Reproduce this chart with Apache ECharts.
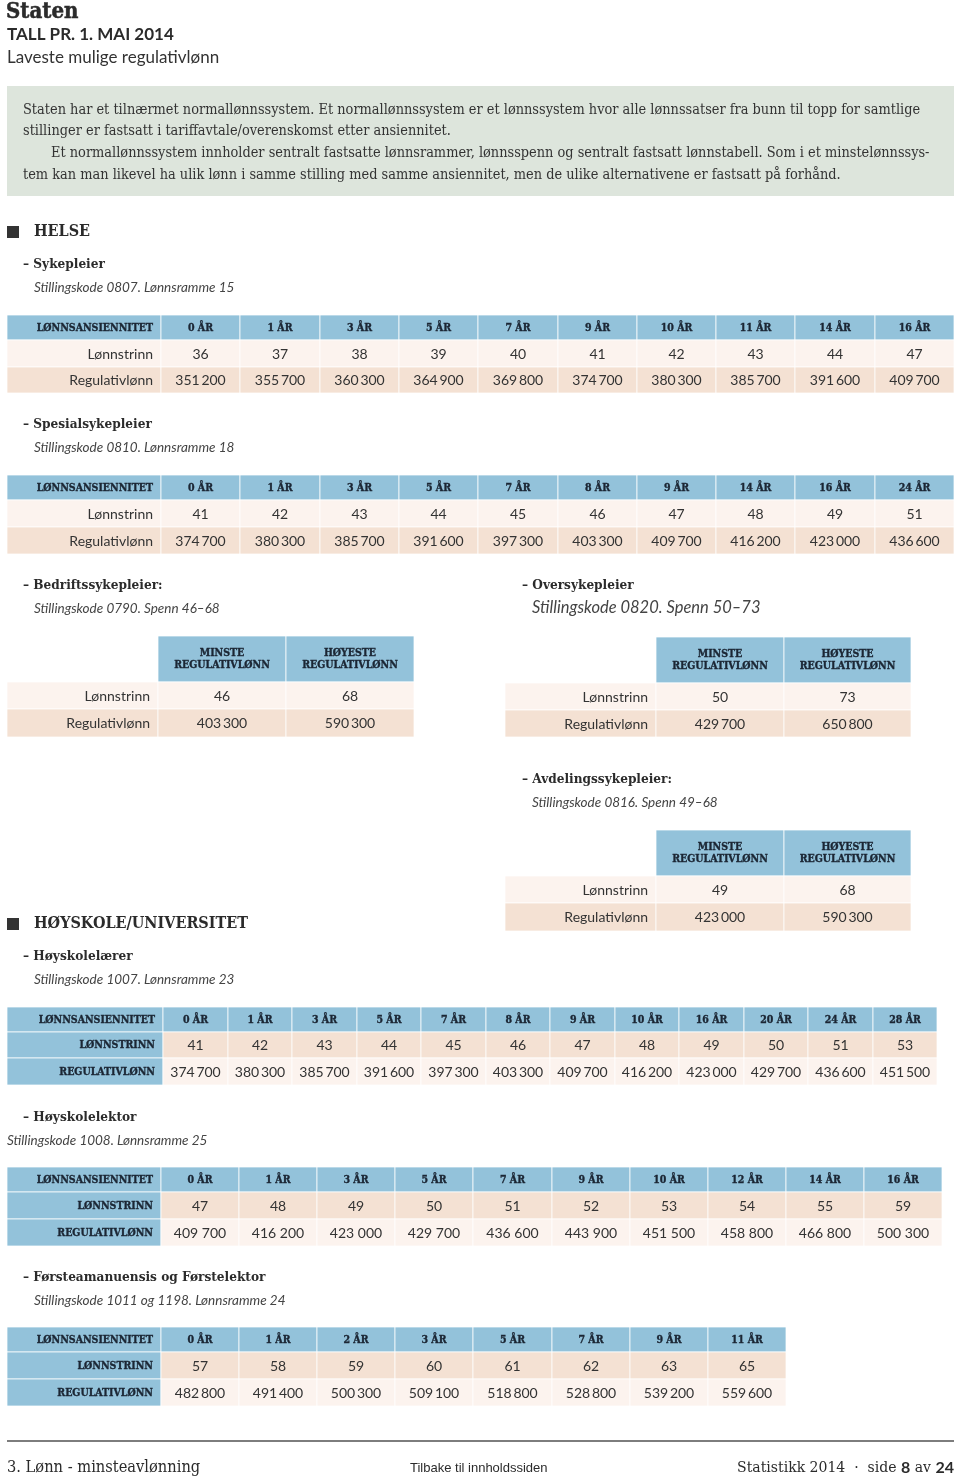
<!DOCTYPE html>
<html><head><meta charset="utf-8">
<script src="https://cdn.jsdelivr.net/npm/echarts@6/dist/echarts.min.js"></script>
<style>html,body{margin:0;padding:0;background:#fff}#c{width:960px;height:1480px}</style>
</head><body><div id="c"></div>
<script>
// ---------------- DATA ----------------
const sykepleierYears = ['0 ÅR','1 ÅR','3 ÅR','5 ÅR','7 ÅR','9 ÅR','10 ÅR','11 ÅR','14 ÅR','16 ÅR'];
const sykepleierTrinn = [36,37,38,39,40,41,42,43,44,47];
const sykepleierLonn  = [351200,355700,360300,364900,369800,374700,380300,385700,391600,409700];

const spesialYears = ['0 ÅR','1 ÅR','3 ÅR','5 ÅR','7 ÅR','8 ÅR','9 ÅR','14 ÅR','16 ÅR','24 ÅR'];
const spesialTrinn = [41,42,43,44,45,46,47,48,49,51];
const spesialLonn  = [374700,380300,385700,391600,397300,403300,409700,416200,423000,436600];

const spennHeaders = ['MINSTE\nREGULATIVLØNN','HØYESTE\nREGULATIVLØNN'];
const bedriftTrinn = [46,68];
const bedriftLonn  = [403300,590300];
const overTrinn = [50,73];
const overLonn  = [429700,650800];
const avdTrinn = [49,68];
const avdLonn  = [423000,590300];

const laererYears = ['0 ÅR','1 ÅR','3 ÅR','5 ÅR','7 ÅR','8 ÅR','9 ÅR','10 ÅR','16 ÅR','20 ÅR','24 ÅR','28 ÅR'];
const laererTrinn = [41,42,43,44,45,46,47,48,49,50,51,53];
const laererLonn  = [374700,380300,385700,391600,397300,403300,409700,416200,423000,429700,436600,451500];

const lektorYears = ['0 ÅR','1 ÅR','3 ÅR','5 ÅR','7 ÅR','9 ÅR','10 ÅR','12 ÅR','14 ÅR','16 ÅR'];
const lektorTrinn = [47,48,49,50,51,52,53,54,55,59];
const lektorLonn  = [409700,416200,423000,429700,436600,443900,451500,458800,466800,500300];

const forsteYears = ['0 ÅR','1 ÅR','2 ÅR','3 ÅR','5 ÅR','7 ÅR','9 ÅR','11 ÅR'];
const forsteTrinn = [57,58,59,60,61,62,63,65];
const forsteLonn  = [482800,491400,500300,509100,518800,528800,539200,559600];

const rowLabels = ['Lønnstrinn','Regulativlønn'];
const rowLabelsCaps = ['LØNNSTRINN','REGULATIVLØNN'];
const headLabel = 'LØNNSANSIENNITET';

// ---------------- STYLE ----------------
const SLAB = '"DejaVu Serif Condensed","DejaVu Serif"';
const BLUE = '#93c2da', LIGHT = '#fcf3ee', DARK = '#f4e1d3';
const HEAD_FONT = 'bold 10.5px ' + SLAB;
const NUM_FONT = '14px Lato';
const STYLE = {
  head:     {fill: BLUE, font: HEAD_FONT, color: '#1b2634', align: 'center', lh: 12, bold: true},
  headL:    {fill: BLUE, font: HEAD_FONT, color: '#1b2634', align: 'right', pad: 8, bold: true},
  empty:    {fill: null},
  light:    {fill: LIGHT, font: NUM_FONT, color: '#333', align: 'center'},
  dark:     {fill: DARK, font: NUM_FONT, color: '#333', align: 'center'},
  lightL:   {fill: LIGHT, font: NUM_FONT, color: '#333', align: 'right', pad: 8},
  darkL:    {fill: DARK, font: NUM_FONT, color: '#333', align: 'right', pad: 8}
};

function fmt(v, sep) {
  const s = String(v);
  return s.slice(0, s.length - 3) + sep + s.slice(s.length - 3);
}

// table layouts (pixels)
const tables = [
  {name:'syk', kind:'helse', left:7, top:315, labelW:154, colW:79.3, headH:25, rowH:[27,26], heads:sykepleierYears, trinn:sykepleierTrinn, lonn:sykepleierLonn, sep:'\u2009'},
  {name:'spes', kind:'helse', left:7, top:475, labelW:154, colW:79.3, headH:25, rowH:[27,27], heads:spesialYears, trinn:spesialTrinn, lonn:spesialLonn, sep:'\u2009'},
  {name:'bedrift', kind:'spenn', left:7, top:636, labelW:151, colW:128, headH:46, rowH:[27,28], heads:spennHeaders, trinn:bedriftTrinn, lonn:bedriftLonn, sep:'\u2009'},
  {name:'over', kind:'spenn', left:505, top:637, labelW:151, colW:127.5, headH:46, rowH:[27,27], heads:spennHeaders, trinn:overTrinn, lonn:overLonn, sep:'\u2009'},
  {name:'avd', kind:'spenn', left:505, top:830, labelW:151, colW:127.5, headH:46, rowH:[27,28], heads:spennHeaders, trinn:avdTrinn, lonn:avdLonn, sep:'\u2009'},
  {name:'laerer', kind:'hoy', left:7, top:1007, labelW:156, colW:64.5, headH:25, rowH:[26,27], heads:laererYears, trinn:laererTrinn, lonn:laererLonn, sep:'\u2009'},
  {name:'lektor', kind:'hoy', left:7, top:1167, labelW:154, colW:78.1, headH:25, rowH:[27,27], heads:lektorYears, trinn:lektorTrinn, lonn:lektorLonn, sep:' '},
  {name:'forste', kind:'hoy', left:7, top:1327, labelW:154, colW:78.1, headH:25, rowH:[27,27], heads:forsteYears, trinn:forsteTrinn, lonn:forsteLonn, sep:'\u2009'}
];

const grids = [], xAxes = [], yAxes = [], series = [];
tables.forEach((t, ti) => {
  const n = t.heads.length;
  const L = t.labelW / t.colW;          // label column width in column units
  const yb = [0, t.headH, t.headH + t.rowH[0], t.headH + t.rowH[0] + t.rowH[1]];
  const cells = [];
  if (t.kind === 'spenn') cells.push({x1:0, x2:L, y1:yb[0], y2:yb[1], text:'', kind:'empty'});
  else cells.push({x1:0, x2:L, y1:yb[0], y2:yb[1], text:headLabel, kind:'headL'});
  t.heads.forEach((h, i) => cells.push({x1:L+i, x2:L+i+1, y1:yb[0], y2:yb[1], text:h, kind:'head'}));
  const rows = [t.trinn.map(String), t.lonn.map(v => fmt(v, t.sep))];
  rows.forEach((vals, r) => {
    let bodyKind, labelKind, label;
    if (t.kind === 'hoy') {
      bodyKind = r === 0 ? 'dark' : 'light';
      labelKind = 'headL'; label = rowLabelsCaps[r];
    } else {
      bodyKind = r === 0 ? 'light' : 'dark';
      labelKind = bodyKind + 'L'; label = rowLabels[r];
    }
    cells.push({x1:0, x2:L, y1:yb[r+1], y2:yb[r+2], text:label, kind:labelKind});
    vals.forEach((v, i) => cells.push({x1:L+i, x2:L+i+1, y1:yb[r+1], y2:yb[r+2], text:v, kind:bodyKind}));
  });
  grids.push({left:t.left, top:t.top, width:t.labelW + n*t.colW, height:yb[3]});
  xAxes.push({type:'value', gridIndex:ti, min:0, max:L+n, show:false});
  yAxes.push({type:'value', gridIndex:ti, min:0, max:yb[3], inverse:true, show:false});
  series.push({
    type:'custom', xAxisIndex:ti, yAxisIndex:ti, clip:false, silent:true,
    data: cells.map(c => [c.x1, c.x2, c.y1, c.y2]),
    renderItem: function (params, api) {
      const c = cells[params.dataIndex];
      const p1 = api.coord([api.value(0), api.value(2)]);
      const p2 = api.coord([api.value(1), api.value(3)]);
      const x = Math.round(Math.min(p1[0], p2[0])), y = Math.round(Math.min(p1[1], p2[1]));
      const w = Math.round(Math.max(p1[0], p2[0])) - x, h = Math.round(Math.max(p1[1], p2[1])) - y;
      const st = STYLE[c.kind];
      const ch = [];
      if (st.fill) ch.push({type:'rect', shape:{x:x, y:y, width:w, height:h},
        style:{fill:st.fill, stroke:'rgba(255,255,255,0.75)', lineWidth:1}});
      if (c.text) {
        const ts = {text:c.text, x: st.align === 'right' ? x + w - st.pad : x + w/2, y: y + h/2 + 0.5,
          align: st.align, verticalAlign:'middle', font: st.font, fill: st.color, lineHeight: st.lh || 14};
        if (st.bold) { ts.stroke = st.color; ts.lineWidth = 0.35; }
        ch.push({type:'text', style: ts});
      }
      return {type:'group', children: ch};
    }
  });
});

// ---------------- TEXT / DECOR ----------------
const TXT = '#2b2b2b';
function txt(x, y, text, font, opts) {
  return {type:'text', x:x, y:y, silent:true, style:Object.assign({text:text, font:font, fill:TXT, verticalAlign:'middle', align:'left'}, opts || {})};
}
const boxFont = '14.4px ' + SLAB;
const graphic = [
  txt(6, 12, 'Staten', 'bold 22px ' + SLAB, {stroke:TXT, lineWidth:0.5}),
  txt(7, 35, 'TALL PR. 1. MAI 2014', 'bold 17px Lato'),
  txt(7, 58, 'Laveste mulige regulativlønn', '17px Lato', {fill:'#333'}),
  {type:'rect', shape:{x:7, y:86, width:947, height:110}, style:{fill:'#dde5dc'}, silent:true},
  txt(23, 110, 'Staten har et tilnærmet normallønnssystem. Et normallønnssystem er et lønnssystem hvor alle lønnssatser fra bunn til topp for samtlige', boxFont, {fill:'#333'}),
  txt(23, 131, 'stillinger er fastsatt i tariffavtale/overenskomst etter ansiennitet.', boxFont, {fill:'#333'}),
  txt(51, 153, 'Et normallønnssystem innholder sentralt fastsatte lønnsrammer, lønnsspenn og sentralt fastsatt lønnstabell. Som i et minstelønnssys-', boxFont, {fill:'#333'}),
  txt(23, 175, 'tem kan man likevel ha ulik lønn i samme stilling med samme ansiennitet, men de ulike alternativene er fastsatt på forhånd.', boxFont, {fill:'#333'}),

  {type:'rect', shape:{x:7, y:226, width:12, height:12}, style:{fill:'#333'}, silent:true},
  txt(34, 232, 'HELSE', 'bold 16px ' + SLAB),
  txt(23, 264, '– Sykepleier', 'bold 13.5px ' + SLAB),
  txt(34, 288, 'Stillingskode 0807. Lønnsramme 15', 'italic 13.5px Lato', {fill:'#444'}),
  txt(23, 424, '– Spesialsykepleier', 'bold 13.5px ' + SLAB),
  txt(34, 448, 'Stillingskode 0810. Lønnsramme 18', 'italic 13.5px Lato', {fill:'#444'}),
  txt(23, 585, '– Bedriftssykepleier:', 'bold 13.5px ' + SLAB),
  txt(34, 609, 'Stillingskode 0790. Spenn 46–68', 'italic 13.5px Lato', {fill:'#444'}),
  txt(522, 585, '– Oversykepleier', 'bold 13.5px ' + SLAB),
  txt(532, 608, 'Stillingskode 0820. Spenn 50–73', 'italic 16.5px Lato', {fill:'#444'}),
  txt(522, 779, '– Avdelingssykepleier:', 'bold 13.5px ' + SLAB),
  txt(532, 803, 'Stillingskode 0816. Spenn 49–68', 'italic 13.5px Lato', {fill:'#444'}),

  {type:'rect', shape:{x:7, y:918, width:12, height:12}, style:{fill:'#333'}, silent:true},
  txt(34, 924, 'HØYSKOLE/UNIVERSITET', 'bold 16px ' + SLAB),
  txt(23, 956, '– Høyskolelærer', 'bold 13.5px ' + SLAB),
  txt(34, 980, 'Stillingskode 1007. Lønnsramme 23', 'italic 13.5px Lato', {fill:'#444'}),
  txt(23, 1117, '– Høyskolelektor', 'bold 13.5px ' + SLAB),
  txt(7, 1141, 'Stillingskode 1008. Lønnsramme 25', 'italic 13.5px Lato', {fill:'#444'}),
  txt(23, 1277, '– Førsteamanuensis og Førstelektor', 'bold 13.5px ' + SLAB),
  txt(34, 1301, 'Stillingskode 1011 og 1198. Lønnsramme 24', 'italic 13.5px Lato', {fill:'#444'}),

  {type:'rect', shape:{x:7, y:1440, width:947, height:2}, style:{fill:'#7d7d7d'}, silent:true},
  txt(7, 1468, '3. Lønn - minsteavlønning', '16.3px ' + SLAB),
  txt(410, 1468, 'Tilbake til innholdssiden', '13px "Liberation Sans Narrow","Liberation Sans"'),
  {type:'text', x:954, y:1468, silent:true, style:{
    text:'{a|Statistikk 2014  ·  side }{b|8}{a| av }{b|24}', align:'right', verticalAlign:'middle',
    rich:{a:{font:'15.6px ' + SLAB, fill:TXT}, b:{font:'bold 16px Lato', fill:TXT}}}}
];

const chart = echarts.init(document.getElementById('c'), null, {renderer:'canvas'});
chart.setOption({animation:false, grid:grids, xAxis:xAxes, yAxis:yAxes, series:series, graphic:graphic});
</script></body></html>
